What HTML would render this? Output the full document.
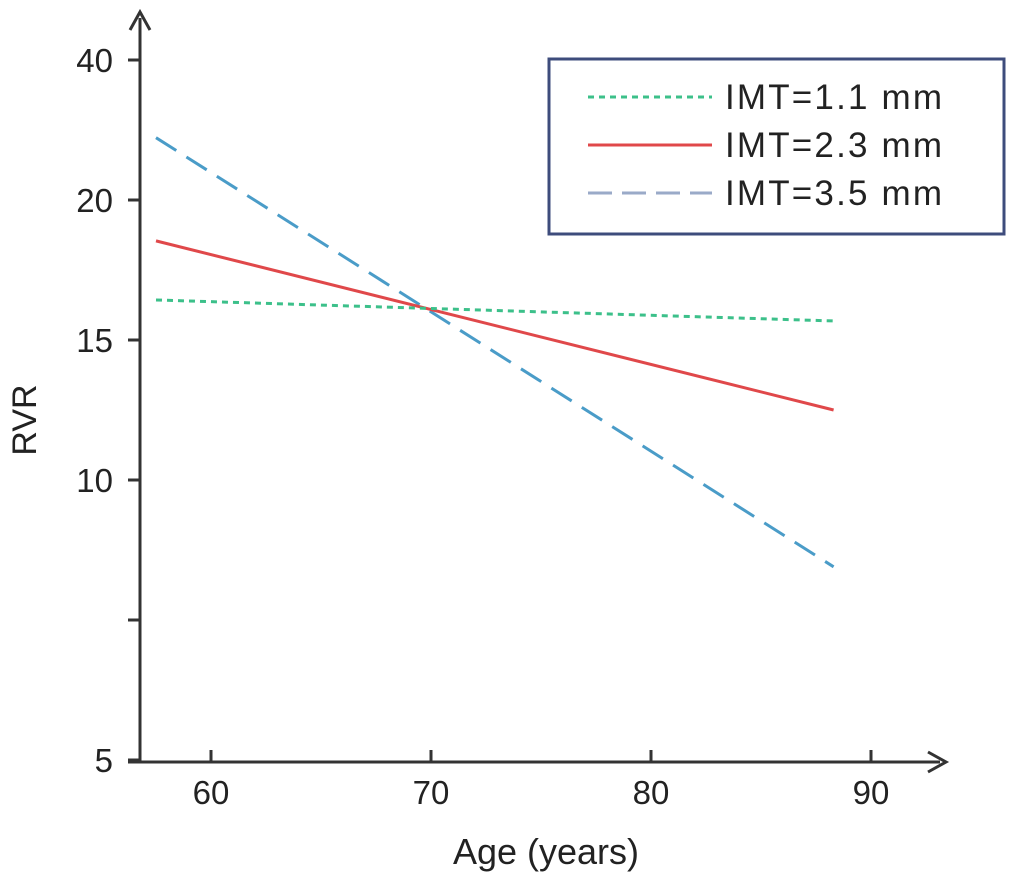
<!DOCTYPE html>
<html><head><meta charset="utf-8"><style>
body{margin:0;background:#fff;}
svg text{font-family:"Liberation Sans",sans-serif;fill:#222;}
</style></head><body>
<svg width="1021" height="883" viewBox="0 0 1021 883">
<g id="axes"></g>
<g id="plot"></g>
<text x="36" y="420" font-size="34" transform="rotate(-90 36 420)" text-anchor="middle">RVR</text>
<text x="546" y="864" font-size="36" text-anchor="middle">Age  (years)</text>
<g>
<rect x="549" y="59" width="455" height="175" fill="#fff" stroke="#3e4c7c" stroke-width="3"/>
<line x1="588" y1="97" x2="712" y2="97" stroke="#3cc08a" stroke-width="3" stroke-dasharray="6,5"/>
<text x="725" y="109" font-size="35" textLength="217">IMT=1.1 mm</text>
<line x1="588" y1="145" x2="712" y2="145" stroke="#e0484a" stroke-width="3"/>
<text x="725" y="157" font-size="35" textLength="217">IMT=2.3 mm</text>
<line x1="588" y1="193" x2="712" y2="193" stroke="#9aaac8" stroke-width="3" stroke-dasharray="24,10"/>
<text x="725" y="205" font-size="35" textLength="217">IMT=3.5 mm</text>
</g>
</svg>
<script>
const yTickValues=[5,7.5,10,15,20,40];
const yTickLabels=["5","","10","15","20","40"];
const xTicks=[60,70,80,90];
const ages=[57.5,88.3];
const imt11=[16.43,15.68];
const imt23=[18.54,12.5];
const imt35=[28.9,8.45];
const NS="http://www.w3.org/2000/svg";
function xs(v){return 211+(v-60)*22;}
function ys(v){
  for(let i=0;i<yTickValues.length-1;i++){
    const a=yTickValues[i],b=yTickValues[i+1];
    if(v<=b||i===yTickValues.length-2){return 760-140*(i+(v-a)/(b-a));}
  }
}
function mk(tag,attrs,parent){const e=document.createElementNS(NS,tag);for(const k in attrs)e.setAttribute(k,attrs[k]);parent.appendChild(e);return e;}
const ax=document.getElementById('axes'),pl=document.getElementById('plot');
let e=mk('line',{x1:140,y1:762,x2:140,y2:18,stroke:'#333','stroke-width':3},ax);


e=mk('polyline',{points:'130,30 140,12 150,30',fill:'none',stroke:'#333','stroke-width':3},ax);


e=mk('line',{x1:128,y1:762,x2:940,y2:762,stroke:'#333','stroke-width':3},ax);


e=mk('polyline',{points:'928,752 946,762 928,772',fill:'none',stroke:'#333','stroke-width':3},ax);


yTickValues.forEach((v,i)=>{
  const y=ys(v);
  let t=mk('line',{x1:128,y1:y,x2:140,y2:y,stroke:'#333','stroke-width':3},ax);
  
  
  if(yTickLabels[i]){
    let l=mk('text',{x:113,y:y+12,'font-size':33,'text-anchor':'end'},ax);
    l.textContent=yTickLabels[i];
    
    
  }
});
xTicks.forEach(v=>{
  const x=xs(v);
  let t=mk('line',{x1:x,y1:750,x2:x,y2:762,stroke:'#333','stroke-width':3},ax);
  
  
  let l=mk('text',{x:x,y:804,'font-size':33,'text-anchor':'middle'},ax);
  l.textContent=v;
  
  
});
function series(vals,color,dash,name){
  let l=mk('line',{x1:xs(ages[0]),y1:ys(vals[0]),x2:xs(ages[1]),y2:ys(vals[1]),stroke:color,'stroke-width':3,'stroke-dasharray':dash},pl);
  
  
}
series(imt35,'#4a9cc8','24,12','series-imt-3-5');
series(imt23,'#e0484a','none','series-imt-2-3');
series(imt11,'#3cc08a','6,5','series-imt-1-1');
</script>
</body></html>
